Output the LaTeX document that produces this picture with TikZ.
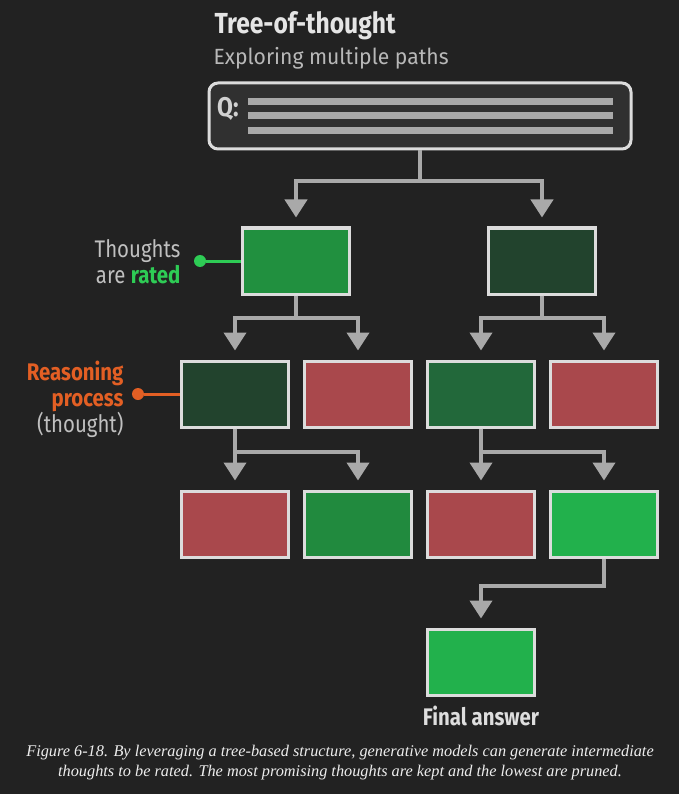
\documentclass[tikz,border=0pt]{standalone}
\usepackage{fontspec}
\setmainfont{Fira Sans}[FakeStretch=0.85]
\newfontfamily\widefont{Fira Sans}[FakeStretch=0.96]
\newfontfamily\capfont{Liberation Serif}
\usetikzlibrary{arrows.meta}
\definecolor{bgc}{HTML}{222222}
\definecolor{boxline}{HTML}{DCDCDC}
\definecolor{linkgray}{HTML}{A9A9A9}
\definecolor{qfill}{HTML}{303030}
\definecolor{badred}{HTML}{A9484C}
\definecolor{darkgreen}{HTML}{22432D}
\definecolor{midgreen}{HTML}{21903F}
\definecolor{deepgreen}{HTML}{22683A}
\definecolor{okgreen}{HTML}{218A3E}
\definecolor{bestgreen}{HTML}{22B14C}
\definecolor{ratedgreen}{HTML}{2ECC55}
\definecolor{reasonorange}{HTML}{E35F24}
\definecolor{softgray}{HTML}{C0C0C0}

\tikzset{
  thought/.style={draw=boxline, line width=3pt, minimum width=107pt,
    minimum height=66pt, inner sep=0pt},
  link/.style={draw=linkgray, line width=4pt,
    -{Triangle[width=22pt,length=18pt]}, shorten >=9pt},
  dot/.style={circle, inner sep=0pt, minimum size=12pt},
  sidelabel/.style={anchor=base east, align=right,
    font=\fontsize{24}{26}\selectfont}
}

\begin{document}
\begin{tikzpicture}[x=1pt, y=-1pt]
	%%%%% BACKGROUND %%%%%
	\fill[bgc] (0,0) rectangle (679,794);
	\useasboundingbox (0,0) rectangle (679,794);
	
	\node[anchor=base west, text=white!90!black, font=\fontsize{29}{30}\selectfont\bfseries] (title) at (211,34) {Tree-of-thought};
	\node[anchor=base west, text=white!72!black, font=\widefont\fontsize{22}{23}\selectfont] (subtitle) at (210,65) {Exploring multiple paths};
	
	%%%%% QUESTION %%%%%
	\node[draw=boxline, fill=qfill, line width=3pt, rounded corners=9pt, minimum width=422pt, minimum height=66pt] (q) at (420,116) {};
	\node[anchor=base west, inner sep=0pt, text=white!82!black, font=\fontsize{27}{28}\selectfont\bfseries] (qmark) at (217,117) {Q:};
	\foreach \yy in {102,116,131}
		\fill[linkgray] (248,\yy-3.5) rectangle (613,\yy+3.5);
	
	%%%%% THOUGHTS %%%%%
	\node[thought, fill=midgreen] (t1) at (296,261) {};
	\node[thought, fill=darkgreen] (t2) at (542,261) {};
	
	\node[thought, fill=darkgreen] (t11) at (235,394) {};
	\node[thought, fill=badred] (t12) at (358,394) {};
	\node[thought, fill=deepgreen] (t21) at (481,394) {};
	\node[thought, fill=badred] (t22) at (604,394) {};
	
	\node[thought, fill=badred] (t111) at (235,524) {};
	\node[thought, fill=okgreen] (t112) at (358,524) {};
	\node[thought, fill=badred] (t211) at (481,524) {};
	\node[thought, fill=bestgreen] (t212) at (604,524) {};
	
	\node[thought, fill=bestgreen] (final) at (481,662) {};
	\node[anchor=base, text=white!87!black, font=\fontsize{24}{25}\selectfont\bfseries] (finallbl) at (481,725) {Final answer};
	
	%%%%% LINKS %%%%%
	\draw[link] (q.south) -- ++(0,31) -| (t1.north);
	\draw[link] (q.south) -- ++(0,31) -| (t2.north);
	
	\draw[link] (t1.south) -- ++(0,22) -| (t11.north);
	\draw[link] (t1.south) -- ++(0,22) -| (t12.north);
	\draw[link] (t2.south) -- ++(0,22) -| (t21.north);
	\draw[link] (t2.south) -- ++(0,22) -| (t22.north);
	
	\draw[link] (t11.south) -- (t111.north);
	\draw[link] (t11.south) -- ++(0,23) -| (t112.north);
	\draw[link] (t21.south) -- (t211.north);
	\draw[link] (t21.south) -- ++(0,23) -| (t212.north);
	
	\draw[link] (t212.south) -- ++(0,27) -| (final.north);
	
	%%%%% LABELS %%%%%
	\node[sidelabel, text=softgray] (ratedlbl) at (184,283) {Thoughts\\are \textcolor{ratedgreen}{\bfseries rated}};
	\node[dot, fill=ratedgreen] (rateddot) at (200,261) {};
	\draw[ratedgreen, line width=3pt] (rateddot) -- (t1.west);
	
	\node[sidelabel, text=softgray] (reasonlbl) at (127,432) {\textcolor{reasonorange}{\bfseries Reasoning}\\\textcolor{reasonorange}{\bfseries process}\\(thought)};
	\node[dot, fill=reasonorange] (reasondot) at (138,394) {};
	\draw[reasonorange, line width=3pt] (reasondot) -- (t11.west);
	
	%%%%% CAPTION %%%%%
	\node[anchor=base, align=center, inner sep=0pt, text=white!93!black, font=\capfont\itshape\fontsize{16.3}{19.5}\selectfont] (caption) at (340,776) {Figure 6-18. By leveraging a tree-based structure, generative models can generate intermediate\\thoughts to be rated. The most promising thoughts are kept and the lowest are pruned.};
\end{tikzpicture}
\end{document}
